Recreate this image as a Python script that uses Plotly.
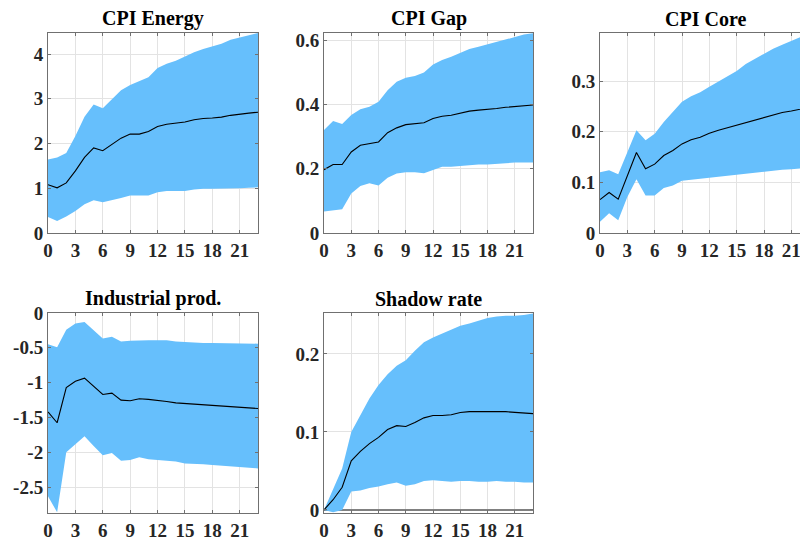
import plotly.graph_objects as go

horizon = list(range(24))

titles = ["CPI Energy", "CPI Gap", "CPI Core", "Industrial prod.", "Shadow rate"]

energy_med = [1.08, 1.01, 1.12, 1.39, 1.69, 1.90, 1.84, 1.98, 2.12, 2.21, 2.21, 2.27, 2.38, 2.43, 2.45, 2.48, 2.53, 2.56, 2.57, 2.59, 2.63, 2.66, 2.68, 2.70]
energy_hi = [1.64, 1.69, 1.79, 2.17, 2.60, 2.87, 2.79, 2.98, 3.19, 3.31, 3.39, 3.48, 3.69, 3.78, 3.85, 3.95, 4.04, 4.11, 4.17, 4.23, 4.32, 4.37, 4.42, 4.47]
energy_lo = [0.36, 0.27, 0.37, 0.49, 0.64, 0.73, 0.69, 0.73, 0.78, 0.84, 0.84, 0.84, 0.91, 0.94, 0.94, 0.94, 0.97, 0.99, 0.99, 0.99, 0.99, 1.00, 1.01, 1.02]

gap_med = [0.197, 0.213, 0.213, 0.252, 0.273, 0.278, 0.283, 0.312, 0.327, 0.337, 0.341, 0.343, 0.356, 0.363, 0.366, 0.372, 0.379, 0.382, 0.384, 0.387, 0.391, 0.393, 0.396, 0.398]
gap_hi = [0.320, 0.348, 0.339, 0.367, 0.385, 0.393, 0.408, 0.444, 0.470, 0.483, 0.488, 0.499, 0.524, 0.538, 0.548, 0.561, 0.572, 0.579, 0.587, 0.595, 0.602, 0.611, 0.617, 0.621]
gap_lo = [0.067, 0.071, 0.074, 0.123, 0.146, 0.155, 0.148, 0.172, 0.185, 0.189, 0.189, 0.186, 0.195, 0.206, 0.206, 0.208, 0.212, 0.213, 0.213, 0.214, 0.217, 0.219, 0.219, 0.219]

core_med = [0.066, 0.080, 0.067, 0.114, 0.159, 0.127, 0.136, 0.153, 0.163, 0.176, 0.184, 0.189, 0.197, 0.203, 0.208, 0.214, 0.219, 0.224, 0.229, 0.234, 0.238, 0.241, 0.245, 0.248]
core_hi = [0.120, 0.124, 0.116, 0.160, 0.203, 0.183, 0.196, 0.219, 0.239, 0.259, 0.270, 0.278, 0.289, 0.299, 0.309, 0.320, 0.334, 0.344, 0.354, 0.364, 0.372, 0.380, 0.387, 0.393]
core_lo = [0.022, 0.039, 0.025, 0.071, 0.106, 0.074, 0.074, 0.089, 0.094, 0.103, 0.105, 0.107, 0.109, 0.112, 0.114, 0.116, 0.118, 0.119, 0.122, 0.124, 0.125, 0.126, 0.128, 0.129]

ip_med = [-1.42, -1.575, -1.07, -0.98, -0.935, -1.05, -1.17, -1.15, -1.25, -1.26, -1.23, -1.24, -1.25, -1.27, -1.29, -1.30, -1.31, -1.32, -1.33, -1.33, -1.34, -1.35, -1.36, -1.37]
ip_hi = [-0.45, -0.49, -0.24, -0.15, -0.13, -0.25, -0.365, -0.34, -0.41, -0.40, -0.39, -0.39, -0.39, -0.39, -0.41, -0.42, -0.42, -0.43, -0.43, -0.43, -0.43, -0.43, -0.44, -0.44]
ip_lo = [-2.63, -2.86, -2.00, -1.89, -1.77, -1.91, -2.04, -2.01, -2.12, -2.11, -2.07, -2.10, -2.11, -2.13, -2.13, -2.16, -2.16, -2.17, -2.18, -2.19, -2.20, -2.22, -2.22, -2.23]

sr_med = [0.0, 0.013, 0.029, 0.063, 0.075, 0.085, 0.093, 0.103, 0.108, 0.107, 0.112, 0.118, 0.121, 0.121, 0.122, 0.125, 0.126, 0.126, 0.126, 0.126, 0.126, 0.125, 0.124, 0.1235]
sr_hi = [0.0, 0.027, 0.053, 0.100, 0.122, 0.143, 0.160, 0.174, 0.185, 0.192, 0.204, 0.215, 0.221, 0.226, 0.232, 0.236, 0.239, 0.243, 0.246, 0.248, 0.249, 0.249, 0.250, 0.252]
sr_lo = [0.0, -0.003, 0.000, 0.0235, 0.025, 0.028, 0.030, 0.033, 0.035, 0.031, 0.033, 0.037, 0.038, 0.037, 0.036, 0.037, 0.037, 0.036, 0.036, 0.037, 0.036, 0.036, 0.035, 0.035]

x_ticks = [0, 3, 6, 9, 12, 15, 18, 21]
y_ticks = [
    [0, 1, 2, 3, 4],
    [0, 0.2, 0.4, 0.6],
    [0, 0.1, 0.2, 0.3],
    [0, -0.5, -1, -1.5, -2, -2.5],
    [0, 0.1, 0.2],
]
y_tick_text = [
    ["0", "1", "2", "3", "4"],
    ["0", "0.2", "0.4", "0.6"],
    ["0", "0.1", "0.2", "0.3"],
    ["0", "-0.5", "-1", "-1.5", "-2", "-2.5"],
    ["0", "0.1", "0.2"],
]
y_ranges = [[0, 4.47], [0, 0.622], [0, 0.395], [-2.87, 0], [-0.004, 0.2525]]
x_ranges = [[0, 23], [0, 23], [0, 21.95], [0, 23], [0, 23]]

series = [
    (energy_med, energy_hi, energy_lo),
    (gap_med, gap_hi, gap_lo),
    (core_med, core_hi, core_lo),
    (ip_med, ip_hi, ip_lo),
    (sr_med, sr_hi, sr_lo),
]

W, H = 800, 541
boxes = [  # left, right, top, bottom in pixels
    (48, 258, 33, 233),
    (324, 533, 33, 233),
    (600, 800, 33, 233),
    (48, 258, 313, 513),
    (324, 533, 313, 513),
]

BAND = "#66BFFC"
FONT = "Liberation Serif"
AXC = "#707070"
GRIDC = "#E3E3E3"


def bold(s):
    return f"<b>{s}</b>"


fig = go.Figure()
layout = dict(
    width=W, height=H, margin=dict(l=0, r=0, t=0, b=0, pad=0, autoexpand=False),
    paper_bgcolor="white", plot_bgcolor="white", showlegend=False,
    annotations=[],
)

for i, (med, hi, lo) in enumerate(series):
    n = i + 1
    xa = "x" if n == 1 else f"x{n}"
    ya = "y" if n == 1 else f"y{n}"
    fig.add_trace(go.Scatter(x=horizon, y=lo, mode="lines", line=dict(width=0, color=BAND),
                             xaxis=xa, yaxis=ya, hoverinfo="skip"))
    fig.add_trace(go.Scatter(x=horizon, y=hi, mode="lines", line=dict(width=0, color=BAND),
                             fill="tonexty", fillcolor=BAND, xaxis=xa, yaxis=ya, hoverinfo="skip"))
    fig.add_trace(go.Scatter(x=horizon, y=med, mode="lines", line=dict(width=1.1, color="black"),
                             xaxis=xa, yaxis=ya))
    l, r, t, b = boxes[i]
    xdom = [l / W, r / W]
    ydom = [1 - b / H, 1 - t / H]
    last_col = (i == 2)
    xkey = "xaxis" if n == 1 else f"xaxis{n}"
    ykey = "yaxis" if n == 1 else f"yaxis{n}"
    layout[xkey] = dict(
        domain=xdom, anchor=ya, range=x_ranges[i], tickvals=x_ticks,
        ticktext=[bold(v) for v in x_ticks], automargin=False, ticklabeloverflow="allow",
        showgrid=True, gridcolor=GRIDC, gridwidth=1, zeroline=False,
        showline=True, linecolor=AXC, linewidth=1, mirror="ticks",
        ticks="inside", ticklen=3, tickcolor=AXC,
        tickfont=dict(family=FONT, size=19, color="#262626"),
    )
    layout[ykey] = dict(
        domain=ydom, anchor=xa, range=y_ranges[i], tickvals=y_ticks[i],
        ticktext=[bold(s) for s in y_tick_text[i]],
        automargin=False, ticklabeloverflow="allow",
        showgrid=True, gridcolor=GRIDC, gridwidth=1,
        zeroline=(n == 5), zerolinecolor="#808080", zerolinewidth=2,
        showline=True, linecolor=AXC, linewidth=1,
        mirror=(False if last_col else "ticks"),
        ticks="inside", ticklen=3, tickcolor=AXC,
        tickfont=dict(family=FONT, size=19, color="#262626"),
    )
    cx = (l + r) / 2
    if last_col:
        cx = (600 + 810) / 2
    layout["annotations"].append(dict(
        text=bold(titles[i]), x=cx / W, y=1 - t / H, xref="paper", yref="paper",
        xanchor="center", yanchor="bottom", yshift=1, showarrow=False,
        font=dict(family=FONT, size=20, color="black"),
    ))

fig.update_layout(**layout)
fig.write_html("out.html")
